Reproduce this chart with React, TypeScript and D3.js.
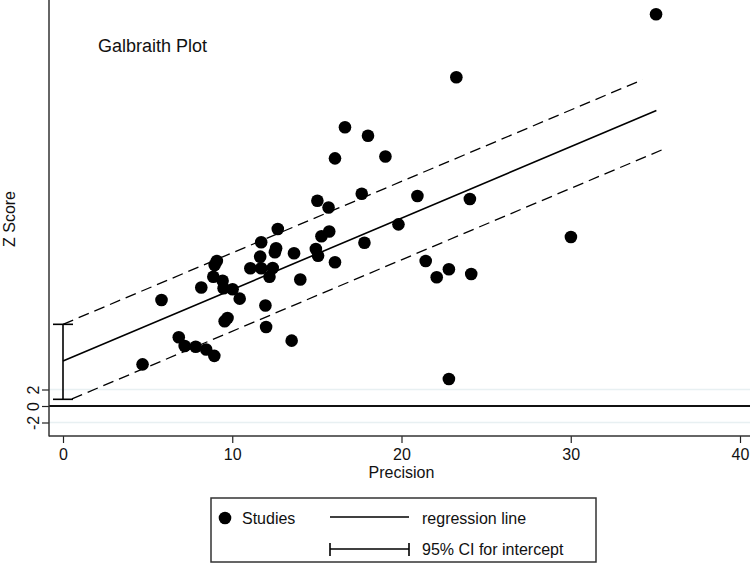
import React, { useRef, useEffect } from 'react';
import * as d3 from 'd3';

// study precision (1/se) and standardised effect (z)
const precision = [4.70, 5.82, 6.84, 7.19, 7.84, 8.46, 8.94, 8.17, 8.88, 9.43, 9.49, 10.02, 10.44, 9.55, 9.72,
  9.09, 8.96, 11.07, 11.71, 11.71, 11.65, 12.39, 12.20, 11.96, 12.00, 12.69, 12.59, 12.52, 13.65, 14.02, 13.51,
  15.03, 15.69, 15.27, 15.73, 14.94, 15.07, 16.07, 17.65, 17.81, 16.66, 18.02, 16.07, 19.05, 20.94, 19.82,
  24.04, 23.24, 21.43, 22.80, 22.08, 24.12, 22.80, 30.01, 35.04];
const zScore = [5.05, 12.85, 8.33, 7.27, 7.19, 6.85, 6.08, 14.36, 15.67, 15.19, 14.27, 14.15, 13.01, 10.27, 10.67,
  17.58, 17.09, 16.69, 16.69, 19.84, 18.10, 16.73, 15.67, 12.18, 9.58, 21.45, 19.12, 18.64, 18.51, 15.33, 7.92,
  24.87, 24.06, 20.57, 21.15, 19.03, 18.21, 17.42, 25.73, 19.79, 33.78, 32.76, 30.02, 30.24, 25.45, 22.02,
  25.09, 39.84, 17.58, 16.57, 15.60, 16.00, 3.27, 20.48, 47.48];

const slope = 0.866;
const intercept = 5.45;
const ciLow = 0.81;
const ciHigh = 9.9;
const upperBand = 9.9;
const lowerBand = 0.4;
const regRange = [0, 35.06];
const upperRange = [0, 34.24];
const lowerRange = [0.53, 35.53];

const xTicks = [0, 10, 20, 30, 40];
const yTicks = [-2, 0, 2];
const gridTicks = [-2, 2];

const W = 750;
const H = 568;
const FONT = 'Liberation Sans, Arial, sans-serif';

const App = () => {
  const svgRef = useRef<SVGSVGElement>(null);

  useEffect(() => {
    const svg = d3.select(svgRef.current);
    svg.selectAll('*').remove();

    const left = 49, bottom = 436;
    const x = d3.scaleLinear().domain([0, 40]).range([63, 740]);
    const y = d3.scaleLinear().domain([0, 2]).range([406, 389.5]);

    // light grid lines at +-2
    svg.append('g').selectAll('line').data(gridTicks).enter().append('line')
      .attr('x1', left).attr('x2', W)
      .attr('y1', d => y(d)).attr('y2', d => y(d))
      .attr('stroke', '#e8f0f2').attr('stroke-width', 1.5);

    // zero line
    svg.append('line')
      .attr('x1', left).attr('x2', W).attr('y1', y(0)).attr('y2', y(0))
      .attr('stroke', '#111').attr('stroke-width', 2);

    // axes
    const xAxis = svg.append('g').attr('transform', `translate(0,${bottom})`)
      .call(d3.axisBottom(x).tickValues(xTicks).tickSize(7).tickPadding(6).tickFormat(d3.format('d')));
    xAxis.select('.domain').remove();
    xAxis.selectAll('text').attr('font-size', 16).attr('font-family', FONT).attr('fill', '#111');
    xAxis.selectAll('line').attr('stroke', '#222').attr('stroke-width', 1.2);

    const yAxis = svg.append('g').attr('transform', `translate(${left},0)`)
      .call(d3.axisLeft(y).tickValues(yTicks).tickSize(7).tickFormat(d3.format('d')));
    yAxis.select('.domain').remove();
    yAxis.selectAll('line').attr('stroke', '#222').attr('stroke-width', 1.2);
    yAxis.selectAll('text').remove();
    yAxis.selectAll('.tick').append('text')
      .attr('transform', 'translate(-16,0) rotate(-90)')
      .attr('text-anchor', 'middle')
      .attr('dy', '0.35em')
      .attr('font-size', 16).attr('font-family', FONT).attr('fill', '#111')
      .text(d => String(d));

    svg.append('line').attr('x1', left).attr('x2', left).attr('y1', 0).attr('y2', bottom + 0.5)
      .attr('stroke', '#333').attr('stroke-width', 1.5);
    svg.append('line').attr('x1', left).attr('x2', W).attr('y1', bottom).attr('y2', bottom)
      .attr('stroke', '#333').attr('stroke-width', 1.5);

    // regression and band lines
    const seg = (range: number[], b: number) => [[range[0], b + slope * range[0]], [range[1], b + slope * range[1]]];
    const line = d3.line<number[]>().x(d => x(d[0])).y(d => y(d[1]));
    svg.append('path').attr('d', line(seg(regRange, intercept)))
      .attr('fill', 'none').attr('stroke', '#000').attr('stroke-width', 1.6);
    svg.append('path').attr('d', line(seg(upperRange, upperBand)))
      .attr('fill', 'none').attr('stroke', '#000').attr('stroke-width', 1.3).attr('stroke-dasharray', '11,6');
    svg.append('path').attr('d', line(seg(lowerRange, lowerBand)))
      .attr('fill', 'none').attr('stroke', '#000').attr('stroke-width', 1.3).attr('stroke-dasharray', '11,6');

    // CI for intercept
    const cx = x(0);
    svg.append('line').attr('x1', cx).attr('x2', cx).attr('y1', y(ciLow)).attr('y2', y(ciHigh))
      .attr('stroke', '#000').attr('stroke-width', 1.6);
    [ciLow, ciHigh].forEach(v => {
      svg.append('line').attr('x1', cx - 10).attr('x2', cx + 10).attr('y1', y(v)).attr('y2', y(v))
        .attr('stroke', '#000').attr('stroke-width', 1.6);
    });

    // studies
    svg.append('g').selectAll('circle').data(precision).enter().append('circle')
      .attr('cx', d => x(d))
      .attr('cy', (d, i) => y(zScore[i]))
      .attr('r', 6.3)
      .attr('fill', '#000');

    // titles
    svg.append('text').attr('x', 98).attr('y', 52)
      .attr('font-size', 18).attr('font-family', FONT).attr('fill', '#111')
      .text('Galbraith Plot');
    svg.append('text').attr('x', x(20)).attr('y', 478).attr('text-anchor', 'middle')
      .attr('font-size', 16).attr('font-family', FONT).attr('fill', '#111')
      .text('Precision');
    svg.append('text').attr('transform', 'translate(15,219) rotate(-90)').attr('text-anchor', 'middle')
      .attr('font-size', 16).attr('font-family', FONT).attr('fill', '#111')
      .text('Z Score');

    // legend
    const lg = svg.append('g');
    lg.append('rect').attr('x', 211).attr('y', 498).attr('width', 385).attr('height', 64)
      .attr('fill', '#fff').attr('stroke', '#333').attr('stroke-width', 1.5);
    lg.append('circle').attr('cx', 225).attr('cy', 518).attr('r', 6.3).attr('fill', '#000');
    lg.append('text').attr('x', 242).attr('y', 524).attr('font-size', 16).attr('font-family', FONT)
      .attr('fill', '#111').text('Studies');
    lg.append('line').attr('x1', 330).attr('x2', 409).attr('y1', 517).attr('y2', 517)
      .attr('stroke', '#000').attr('stroke-width', 1.6);
    lg.append('text').attr('x', 422).attr('y', 524).attr('font-size', 16).attr('font-family', FONT)
      .attr('fill', '#111').text('regression line');
    lg.append('line').attr('x1', 330).attr('x2', 409).attr('y1', 549).attr('y2', 549)
      .attr('stroke', '#000').attr('stroke-width', 1.6);
    [330, 409].forEach(px => {
      lg.append('line').attr('x1', px).attr('x2', px).attr('y1', 543).attr('y2', 556)
        .attr('stroke', '#000').attr('stroke-width', 1.6);
    });
    lg.append('text').attr('x', 422).attr('y', 555).attr('font-size', 16).attr('font-family', FONT)
      .attr('fill', '#111').text('95% CI for intercept');
  }, []);

  return (
    <svg ref={svgRef} width={W} height={H}
      style={{ position: 'absolute', left: 0, top: 0, background: '#fff' }} />
  );
};

export default App;
